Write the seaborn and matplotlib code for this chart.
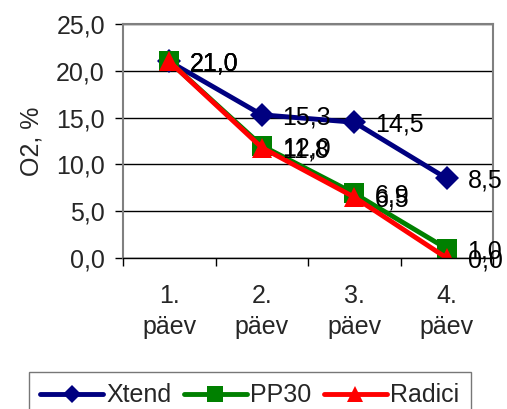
import matplotlib
matplotlib.use("Agg")
import matplotlib.pyplot as plt
import seaborn as sns
import pandas as pd
from matplotlib.ticker import FixedLocator
from matplotlib.lines import Line2D

sns.set_theme(style="white")
plt.rcParams['font.family'] = ['Liberation Sans', 'DejaVu Sans']

categories = ["1.\npäev", "2.\npäev", "3.\npäev", "4.\npäev"]
xtend = [21.0, 15.3, 14.5, 8.5]
pp30 = [21.0, 12.0, 6.9, 1.0]
radici = [21.0, 11.8, 6.5, 0.0]
series_names = ["Xtend", "PP30", "Radici"]
colors = ["#000080", "#008000", "#FF0000"]
markers = ["D", "s", "^"]
msizes = [12, 14, 15]

rows = []
for name, vals in zip(series_names, [xtend, pp30, radici]):
    for i, v in enumerate(vals):
        rows.append({"x": i, "val": v, "series": name})
df = pd.DataFrame(rows)

FS = 18
fig = plt.figure(figsize=(5.07, 4.09), dpi=100)
ax = fig.add_axes([123/507, 1 - 258/409, (493-123)/507, (258-24)/409])

sns.lineplot(data=df, x="x", y="val", hue="series", style="series",
             palette=colors, markers=markers, dashes=False, linewidth=3.5,
             markeredgewidth=0, ax=ax, legend=False)
for line, ms in zip(ax.lines, msizes):
    line.set_markersize(ms)

# data labels
for vals in [xtend, pp30, radici]:
    for i, v in enumerate(vals):
        ax.annotate(f"{v:.1f}".replace(".", ","), (i, v), xytext=(15, 0),
                    textcoords="offset points", va="center_baseline", ha="left",
                    fontsize=FS, color="black", annotation_clip=False)

ax.set_xlim(-0.5, 3.5)
ax.set_ylim(0, 25)
yt = [0, 5, 10, 15, 20, 25]
ax.set_yticks(yt)
ax.set_yticklabels([f"{t:.1f}".replace(".", ",") for t in yt], fontsize=FS)
ax.set_xticks(range(4))
ax.set_xticklabels(categories, fontsize=FS, linespacing=1.35)
ax.xaxis.set_minor_locator(FixedLocator([-0.5, 0.5, 1.5, 2.5, 3.5]))
ax.tick_params(axis="x", which="major", length=0, pad=19)
ax.tick_params(axis="x", which="minor", length=6, width=1, color="black", direction="out", bottom=True)
ax.tick_params(axis="y", length=6, width=1, color="black", direction="out", left=True, pad=7)
ax.set_xlabel("")
ax.set_ylabel("O2, %", fontsize=FS, labelpad=9)
ax.yaxis.grid(True, color="black", linewidth=1)
ax.set_axisbelow(True)
for s in ax.spines.values():
    s.set_visible(True)
    s.set_color("#808080")
    s.set_linewidth(1.5)
ax.spines["bottom"].set_color("black")
ax.spines["bottom"].set_linewidth(1)

handles = [Line2D([], [], color=c, marker=m, linewidth=3.5, markersize=ms * 0.8, markeredgewidth=0)
           for c, m, ms in zip(colors, markers, msizes)]
leg = fig.legend(handles, series_names, loc="upper left", bbox_to_anchor=(29/507, 1 - 372/409),
                 ncol=3, frameon=True, fontsize=FS, handlelength=2.5, handletextpad=0.15,
                 columnspacing=0.5, borderpad=0.45, borderaxespad=0, fancybox=False)
leg.get_frame().set_edgecolor("#555555")
leg.get_frame().set_linewidth(1)

fig.savefig("out.png", dpi=100)
